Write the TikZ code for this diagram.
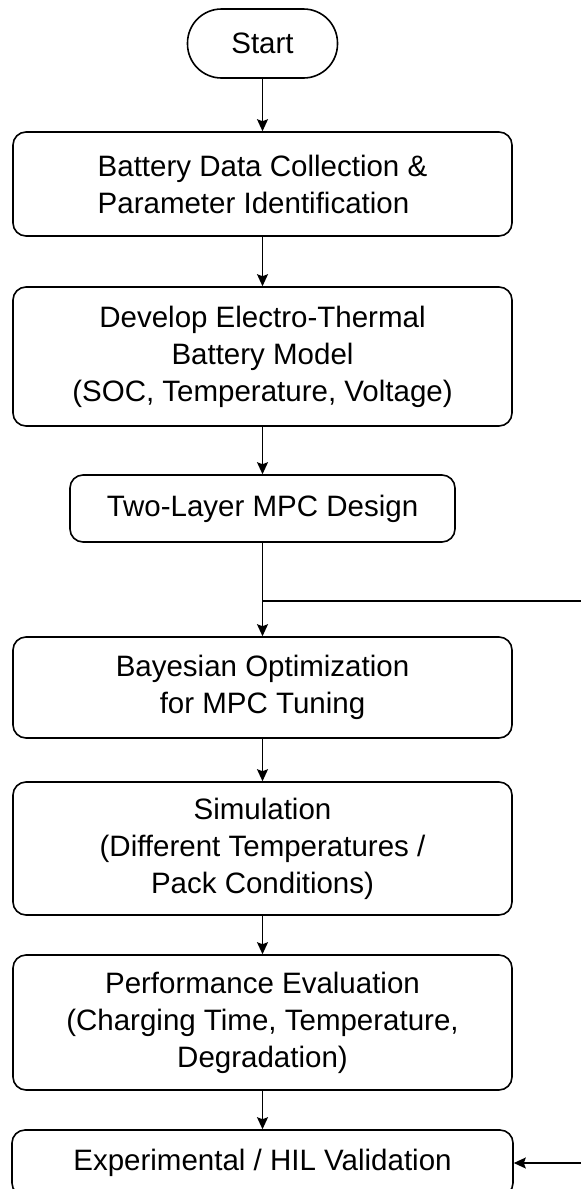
\documentclass[tikz,border=0pt]{standalone}
\usepackage{fontspec}
\setmainfont{Liberation Sans}
\usetikzlibrary{arrows.meta}
\begin{document}
\begin{tikzpicture}[x=1pt,y=-1pt,
  box/.style={draw, line width=1.6pt, rounded corners=13pt, minimum width=499pt,
    inner sep=0pt, align=center, font=\fontsize{29.5}{37}\selectfont},
  arr/.style={line width=1.4pt, -{Stealth[length=12pt,width=11pt,inset=2pt]}},
  plain/.style={line width=1.4pt}]
\useasboundingbox (0,0) rectangle (581,1189);
\clip (0,0) rectangle (581,1189);
\fill[white] (0,0) rectangle (581,1189);
\node[box, rounded corners=34pt, minimum width=150pt, minimum height=69pt] (s) at (262.5,43.5) {Start};
\node[box, minimum height=104pt, align=left] (b1) at (262.5,184) {Battery Data Collection \&\\Parameter Identification};
\node[box, minimum height=139pt] (b2) at (262.5,356.5) {Develop Electro-Thermal\\Battery Model\\(SOC, Temperature, Voltage)};
\node[box, minimum width=385pt, minimum height=67pt] (b3) at (262.5,508.5) {Two-Layer MPC Design};
\node[box, minimum height=101pt] (b4) at (262.5,687.5) {Bayesian Optimization\\for MPC Tuning};
\node[box, minimum height=133pt] (b5) at (262.5,848.5) {Simulation\\(Different Temperatures /\\Pack Conditions)};
\node[box, minimum height=135pt] (b6) at (262.5,1022.5) {Performance Evaluation\\(Charging Time, Temperature,\\Degradation)};
\node[box, minimum width=501pt, minimum height=66pt] (b7) at (262.5,1163) {Experimental / HIL Validation};
\coordinate (j) at (262.5,601);
\coordinate (r1) at (582,601);
\coordinate (r2) at (582,1163);
\draw[arr] (s.south) -- (b1.north);
\draw[arr] (b1.south) -- (b2.north);
\draw[arr] (b2.south) -- (b3.north);
\draw[arr] (b3.south) -- (b4.north);
\draw[arr] (b4.south) -- (b5.north);
\draw[arr] (b5.south) -- (b6.north);
\draw[arr] (b6.south) -- (b7.north);
\draw[plain] (j) -- (r1);
\draw[arr] (r2) -- (b7.east);
\end{tikzpicture}
\end{document}
